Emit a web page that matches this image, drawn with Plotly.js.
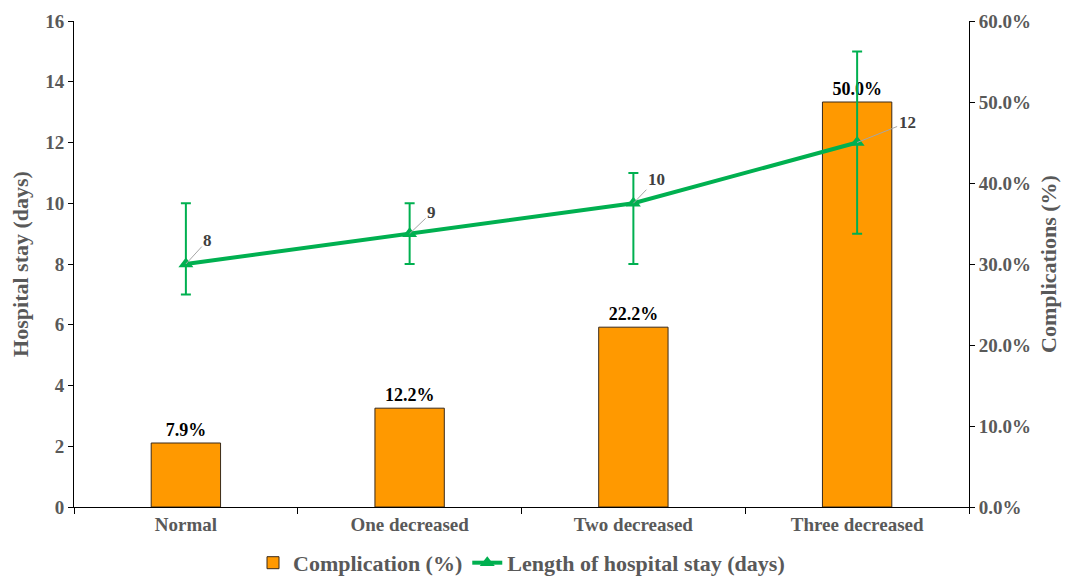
<!DOCTYPE html>
<html>
<head>
<meta charset="utf-8">
<script src="https://cdn.plot.ly/plotly-3.0.1.min.js"></script>
<style>html,body{margin:0;padding:0;background:#fff;}#chart{width:1068px;height:578px;}</style>
</head>
<body>
<div id="chart"></div>
<script>
const categories = ["Normal", "One decreased", "Two decreased", "Three decreased"];
const complicationPct = [7.9, 12.2, 22.2, 50.0];
const stayDays = [8, 9, 10, 12];
const stayErrPlus = [2, 1, 1, 3];
const stayErrMinus = [1, 1, 2, 3];
const stayLabels = ["8", "9", "10", "12"];

const FONT = "Liberation Serif, Times New Roman, serif";
const GREY = "#595959";
// label placement (pixel offsets of the data labels, style only)
const LABEL_OFFSETS = [[22, -24], [22, -21], [23, -24], [50, -20]];

const bars = {
  type: "bar",
  name: "Complication (%)",
  x: categories,
  y: complicationPct,
  yaxis: "y",
  marker: {color: "#FF9900", line: {color: "#3a2a1a", width: 1}},
  text: complicationPct.map(v => v.toFixed(1) + "%"),
  textposition: "outside",
  cliponaxis: false,
  textfont: {family: FONT, size: 18, color: "#000000", weight: "bold"},
  hoverinfo: "skip"
};

const line = {
  type: "scatter",
  mode: "lines+markers",
  name: "Length of hospital stay (days)",
  x: categories,
  y: stayDays,
  yaxis: "y2",
  line: {color: "#00B050", width: 4},
  marker: {symbol: "triangle-up", size: 13, color: "#00B050"},
  error_y: {type: "data", symmetric: false, array: stayErrPlus, arrayminus: stayErrMinus,
            color: "#00B050", thickness: 2, width: 5},
  hoverinfo: "skip"
};

const annotations = categories.map((c, i) => ({
  x: c, y: stayDays[i], xref: "x", yref: "y2",
  text: "<b>" + stayLabels[i] + "</b>",
  showarrow: true, arrowhead: 0, arrowwidth: 1, arrowcolor: "#A6A6A6",
  ax: LABEL_OFFSETS[i][0], ay: LABEL_OFFSETS[i][1], standoff: 0,
  font: {family: FONT, size: 17, color: "#404040"}
}));

const layout = {
  width: 1068, height: 578,
  margin: {l: 74, r: 99, t: 21, b: 71, autoexpand: false},
  paper_bgcolor: "#ffffff", plot_bgcolor: "#ffffff",
  font: {family: FONT, color: GREY},
  bargap: 0.69,
  showlegend: true,
  legend: {orientation: "h", x: 0.5, xanchor: "center", y: -0.115, yanchor: "middle",
           font: {family: FONT, size: 22, color: GREY, weight: "bold"}, itemwidth: 30},
  xaxis: {
    type: "category", showline: true, linecolor: "#000", linewidth: 1,
    ticks: "outside", tickson: "boundaries", ticklen: 6, tickcolor: "#000",
    tickfont: {family: FONT, size: 19, color: GREY, weight: "bold"},
    showgrid: false, zeroline: false
  },
  yaxis: {
    side: "right", range: [0, 60], dtick: 10, tickformat: ".1f", ticksuffix: "%",
    showline: true, linecolor: "#000", linewidth: 1,
    ticks: "outside", ticklen: 5, tickcolor: "#000",
    tickfont: {family: FONT, size: 19, color: GREY, weight: "bold"},
    showgrid: false, zeroline: false,
    title: {text: "Complications (%)", standoff: 10, font: {family: FONT, size: 22, color: GREY, weight: "bold"}}
  },
  yaxis2: {
    overlaying: "y", side: "left", range: [0, 16], dtick: 2,
    showline: true, linecolor: "#000", linewidth: 1,
    ticks: "outside", ticklen: 5, tickcolor: "#000",
    tickfont: {family: FONT, size: 19, color: GREY, weight: "bold"},
    showgrid: false, zeroline: false,
    title: {text: "Hospital stay (days)", standoff: 10, font: {family: FONT, size: 22, color: GREY, weight: "bold"}}
  },
  annotations: annotations
};

Plotly.newPlot("chart", [bars, line], layout, {staticPlot: true, displayModeBar: false});
</script>
</body>
</html>
